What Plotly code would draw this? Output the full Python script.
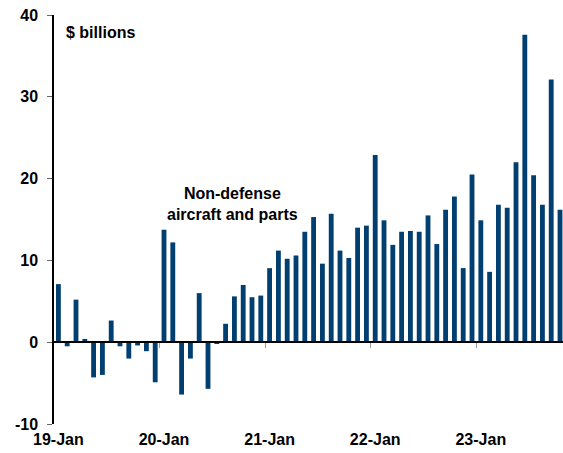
import pandas as pd
import plotly.graph_objects as go

# Monthly values, Jan 2019 - Oct 2023 ($ billions)
values = [7.1, -0.5, 5.2, 0.4, -4.3, -4.0, 2.65, -0.5, -2.0, -0.4, -1.1, -4.9,
          13.75, 12.2, -6.4, -2.0, 6.0, -5.7, -0.2, 2.25, 5.6, 7.0, 5.5, 5.7,
          9.05, 11.2, 10.2, 10.6, 13.5, 15.3, 9.6, 15.7, 11.2, 10.3, 14.0, 14.25,
          22.9, 14.9, 11.9, 13.5, 13.6, 13.5, 15.5, 12.0, 16.2, 17.8, 9.06, 20.5,
          14.9, 8.6, 16.8, 16.45, 22.0, 37.6, 20.4, 16.8, 32.1, 16.2]
months = pd.date_range("2019-01-01", periods=len(values), freq="MS").strftime("%y-%b").tolist()
tick_labels = ["19-Jan", "20-Jan", "21-Jan", "22-Jan", "23-Jan"]
y_ticks = [-10, 0, 10, 20, 30, 40]
y_tick_text = ["-10", "0", "10", "20", "30", "40"]
year_boundaries = [11.5, 23.5, 35.5, 47.5]

BAR = "#003f70"
FONT = "Liberation Sans, Arial, sans-serif"

fig = go.Figure()
fig.add_trace(go.Bar(x=months, y=values, marker=dict(color=BAR, line=dict(width=0)),
                     showlegend=False, hoverinfo="x+y"))
fig.add_trace(go.Scatter(x=months, y=values, xaxis="x2", mode="none",
                         showlegend=False, hoverinfo="skip"))

fig.update_layout(
    width=563, height=453,
    margin=dict(l=54, r=0, t=15, b=29),
    plot_bgcolor="white", paper_bgcolor="white",
    bargap=0.45,
    font=dict(family=FONT, color="black", size=15),
    xaxis=dict(type="category", range=[-0.5, 57.34], tickmode="array",
               tickvals=tick_labels, ticktext=tick_labels, ticks="",
               showline=False, showgrid=False, zeroline=False,
               ticklabelstandoff=4,
               tickfont=dict(family=FONT, size=16, weight="bold", color="black")),
    xaxis2=dict(type="category", overlaying="x", matches="x", anchor="free",
                position=0.2, side="bottom", showline=True, linecolor="black",
                linewidth=2, ticks="outside", tickmode="array",
                tickvals=year_boundaries, ticklen=5, tickwidth=1,
                tickcolor="#9a9a9a", showticklabels=False, showgrid=False,
                zeroline=False),
    yaxis=dict(range=[-10, 40], tickmode="array", tickvals=y_ticks,
               ticktext=y_tick_text,
               showline=True, linecolor="black", linewidth=1.5,
               ticks="outside", ticklen=5, tickcolor="#666", tickwidth=1,
               showgrid=False, zeroline=False, ticklabelstandoff=6,
               tickfont=dict(family=FONT, size=16, weight="bold", color="black")),
    annotations=[
        dict(text="$ billions", xref="paper", yref="paper", x=0.02, y=0.958,
             xanchor="left", yanchor="middle", showarrow=False,
             font=dict(family=FONT, size=16, weight="bold", color="black")),
        dict(text="Non-defense<br>aircraft and parts", xref="paper", yref="paper",
             x=0.35, y=0.538, xanchor="center", yanchor="middle", showarrow=False,
             align="center",
             font=dict(family=FONT, size=16, weight="bold", color="black")),
    ],
)

fig.write_html("out.html", config={"displayModeBar": False},
               post_script="document.body.style.margin='0';document.body.style.padding='0';")
